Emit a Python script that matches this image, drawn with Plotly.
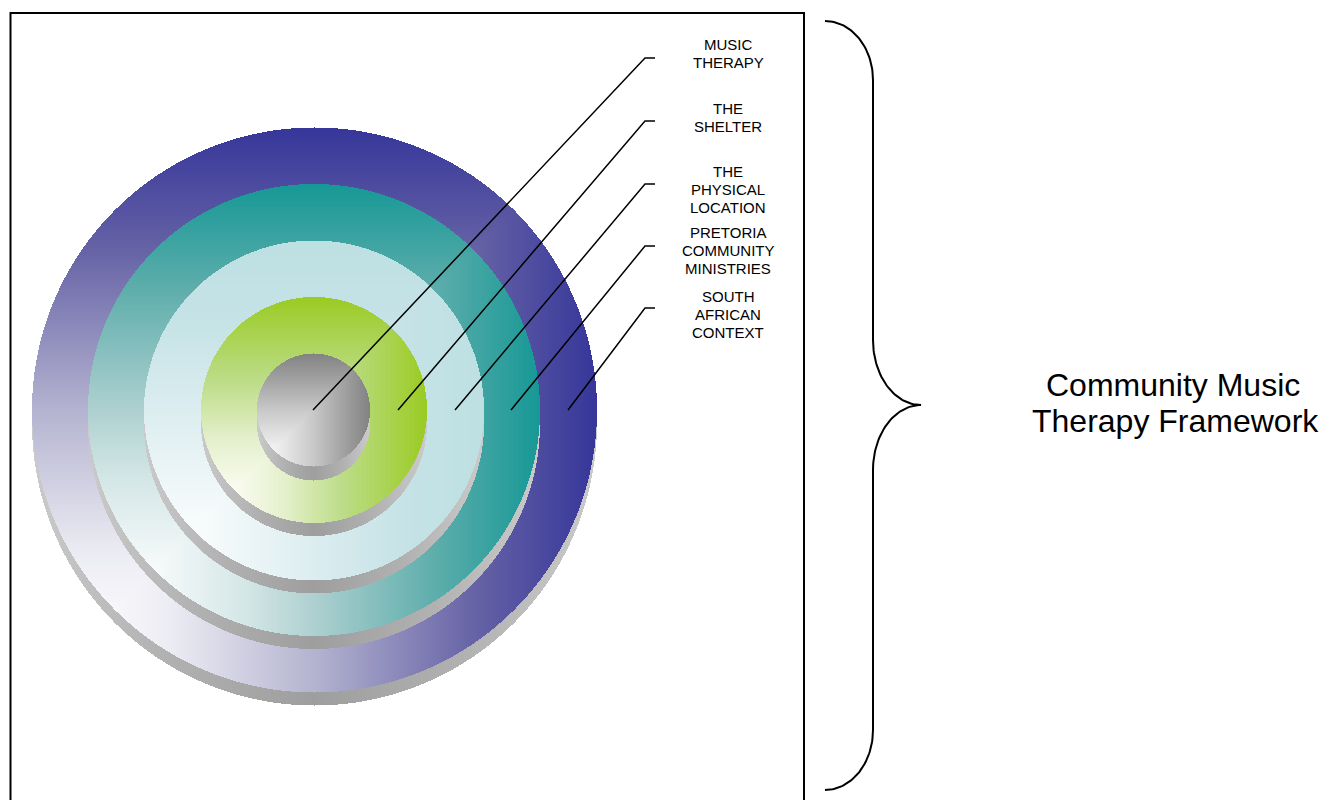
import numpy as np
import plotly.graph_objects as go

W, H = 1333, 800

# ---- diagram content -------------------------------------------------------
# rings from the outermost to the centre
ring_labels = [
    ["SOUTH", "AFRICAN", "CONTEXT"],
    ["PRETORIA", "COMMUNITY", "MINISTRIES"],
    ["THE", "PHYSICAL", "LOCATION"],
    ["THE", "SHELTER"],
    ["MUSIC", "THERAPY"],
]
ring_cx = [314.5, 314.0, 314.0, 314.0, 313.5]
ring_cy = [410.0, 410.0, 410.5, 410.0, 410.0]
ring_r = [282.5, 226.0, 170.0, 113.0, 56.5]
ring_depth = [13, 13, 13, 13, 14]

# gradient stops (t = 0 light corner -> 1 dark corner)
ring_gradients = [
    [(0.0, "#fafafc"), (0.15, "#f7f7fa"), (0.25, "#ebebf3"), (0.5, "#b4b3d0"), (0.79, "#6461a5"), (1.0, "#36369a")],
    [(0.0, "#f8fbfb"), (0.15, "#f6fafa"), (0.35, "#d4e6e6"), (0.5, "#aed0d0"), (0.78, "#5aacaa"), (1.0, "#169896")],
    [(0.0, "#fbfdfd"), (0.15, "#f9fcfc"), (0.5, "#dcedf0"), (0.75, "#c6e3e6"), (1.0, "#bde0e3")],
    [(0.0, "#fcfcf4"), (0.15, "#fafbf0"), (0.37, "#e4f0cc"), (0.5, "#d0e6a8"), (0.63, "#bcdc88"), (1.0, "#9acb22")],
    [(0.0, "#f6f6f6"), (0.15, "#f2f2f2"), (0.5, "#c8c8c8"), (0.75, "#a4a4a4"), (1.0, "#828282")],
]
side_gradient = [(0.0, "#9e9e9e"), (0.5, "#b0b0b0"), (1.0, "#cacaca")]

# leader lines: start (inside ring) -> elbow -> end
leader_start_x = [568, 511, 455, 398, 313]
leader_start_y = [410, 410, 410, 410, 410]
leader_elbow_x = [645, 645, 645, 645, 645]
leader_end_x = [655, 655, 655, 655, 655]
leader_y = [308, 246, 184, 121, 58]
label_first_line_y = [296, 232.5, 171, 108.5, 44.5]
label_x = 728
label_line_step = 18

side_title = ["Community Music", "Therapy Framework"]
side_title_x = [1173, 1175]
side_title_y = [385, 421]

# ---- build gradient discs as one heatmap ----------------------------------
x_lo, x_hi = 26, 604
y_lo, y_hi = 122, 712
xs = np.arange(x_lo, x_hi) + 0.5
ys = np.arange(y_lo, y_hi) + 0.5
X, Y = np.meshgrid(xs, ys)
Z = np.full(X.shape, np.nan, dtype=np.float64)
SEG = 1000.0
n_layers = 2 * len(ring_r)
zmax = n_layers * SEG - 1

for i in range(len(ring_r)):
    cx, cy, r, d = ring_cx[i], ring_cy[i], ring_r[i], ring_depth[i]
    dx = X - cx
    h = np.sqrt(np.clip(r * r - dx * dx, 0, None))
    side = (np.abs(dx) <= r) & (Y >= cy - h) & (Y <= cy + d + h)
    s = np.clip(np.abs(dx) / r, 0, 1)
    Z[side] = (2 * i) * SEG + np.round(s * (SEG - 1))[side]
    disc = dx * dx + (Y - cy) ** 2 <= r * r
    t = np.maximum((X - (cx - r)) / (2 * r), ((cy + r) - Y) / (2 * r))
    t = np.clip(t, 0, 1)
    Z[disc] = (2 * i + 1) * SEG + np.round(t * (SEG - 1))[disc]

colorscale = []
for i in range(len(ring_r)):
    for layer, grad in ((2 * i, side_gradient), (2 * i + 1, ring_gradients[i])):
        for pos, col in grad:
            colorscale.append([(layer * SEG + pos * (SEG - 1)) / zmax, col])
colorscale[-1][0] = 1.0
colorscale[0][0] = 0.0

fig = go.Figure()
fig.add_trace(go.Heatmap(
    x=xs, y=ys, z=Z.astype(np.float32), zmin=0, zmax=zmax,
    colorscale=colorscale, showscale=False, hoverinfo="skip", zsmooth=False,
))

# leader lines
for i in range(len(ring_r)):
    fig.add_trace(go.Scatter(
        x=[leader_start_x[i], leader_elbow_x[i], leader_end_x[i]],
        y=[leader_start_y[i], leader_y[i], leader_y[i]],
        mode="lines", line=dict(color="black", width=1.5),
        hoverinfo="skip", showlegend=False,
    ))

# brace
def arc(cx, cy, rx, ry, a0, a1, n=40):
    a = np.linspace(np.radians(a0), np.radians(a1), n)
    return list(cx + rx * np.cos(a)), list(cy + ry * np.sin(a))

bx, by = [], []
for seg in [
    arc(825, 80, 48, 59, -90, 0),
    arc(921, 340, 48, 65, 180, 90),
    arc(921, 470, 48, 65, -90, -180),
    arc(825, 730, 48, 60, 0, 90),
]:
    bx += seg[0]
    by += seg[1]
fig.add_trace(go.Scatter(x=bx, y=by, mode="lines", line=dict(color="black", width=2),
                         hoverinfo="skip", showlegend=False))

# frame
fig.add_shape(type="rect", x0=10.5, x1=804, y0=13, y1=830,
              line=dict(color="black", width=2), fillcolor="rgba(0,0,0,0)", layer="above")

# labels
for i, lines in enumerate(ring_labels):
    for j, txt in enumerate(lines):
        fig.add_annotation(x=label_x, y=label_first_line_y[i] + j * label_line_step,
                           text=txt, showarrow=False, xanchor="center", yanchor="middle",
                           font=dict(family="Liberation Sans, Arial", size=15, color="black"))

for k, txt in enumerate(side_title):
    fig.add_annotation(x=side_title_x[k], y=side_title_y[k], text=txt, showarrow=False,
                       xanchor="center", yanchor="middle",
                       font=dict(family="Liberation Sans, Arial", size=32, color="black"))

fig.update_layout(
    width=W, height=H, margin=dict(l=0, r=0, t=0, b=0),
    paper_bgcolor="white", plot_bgcolor="white", showlegend=False,
    xaxis=dict(range=[0, W], visible=False, fixedrange=True),
    yaxis=dict(range=[H, 0], visible=False, fixedrange=True),
)

fig.write_html("out.html", config={"displayModeBar": False},
               post_script="document.body.style.margin='0';")
